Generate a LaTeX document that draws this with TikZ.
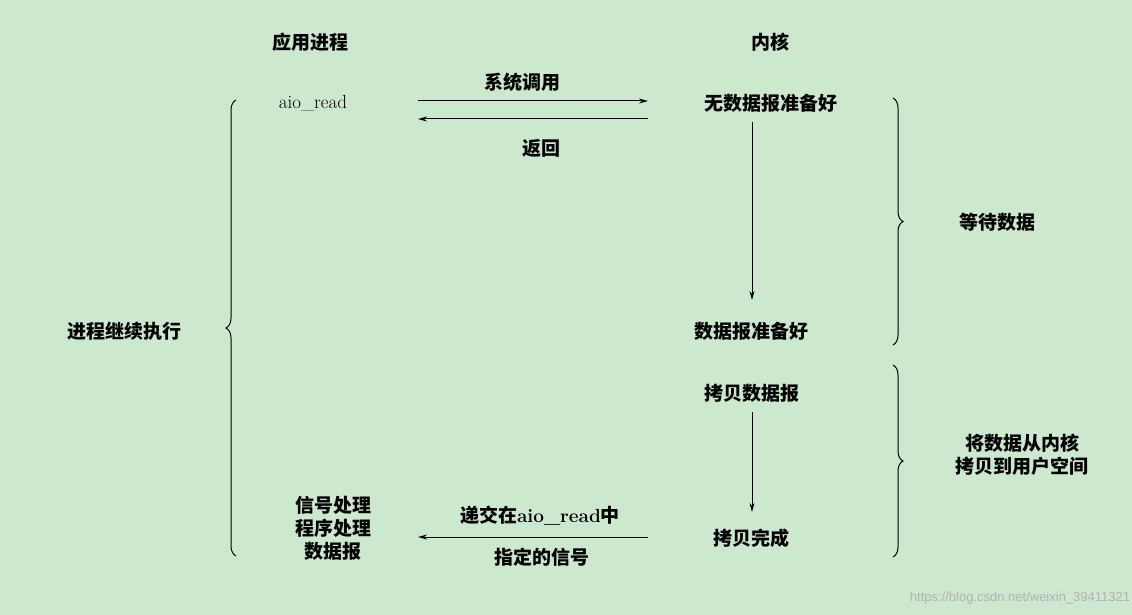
\documentclass[tikz,border=0pt]{standalone}
\usepackage{fontspec}
\newfontfamily\cjk{Noto Sans CJK SC}
\usetikzlibrary{decorations.pathreplacing,arrows.meta}
\definecolor{bg}{RGB}{204,232,207}
\begin{document}
\begin{tikzpicture}[x=1pt,y=-1pt,
  t/.style={font=\cjk\bfseries\fontsize{19}{23}\selectfont,align=center,inner sep=1pt},
  arr/.style={-{Stealth[length=9pt,width=5pt]},line width=1pt},
  br/.style={decorate,decoration={brace,amplitude=10pt},line width=1pt}]
\fill[bg] (0,0) rectangle (1132,615);
\useasboundingbox (0,0) rectangle (1132,615);
\node[t] (h1) at (310,42) {应用进程};
\node[t] (h2) at (770,42) {内核};
\node[t,font=\fontsize{19}{23}\selectfont] (aio) at (313,103) {aio\_read};
\node[t] (k1) at (771,103) {无数据报准备好};
\node[t] (k2) at (751,331) {数据报准备好};
\node[t] (k3) at (752,393) {拷贝数据报};
\node[t] (k4) at (751,538) {拷贝完成};
\node[t] (sig) at (333,528) {信号处理\\程序处理\\数据报};
\coordinate (a1) at (418,101); \coordinate (b1) at (648,101);
\coordinate (a2) at (648,119); \coordinate (b2) at (418,119);
\coordinate (a3) at (648,537); \coordinate (b3) at (418,537);
\draw[arr] (a1) -- (b1);
\draw[arr] (a2) -- (b2);
\draw[arr] (a3) -- (b3);
\node[t] (l1) at (522,82) {系统调用};
\node[t] (l2) at (541,148) {返回};
\node[t] (l3) at (540,516) {递交在{\fontspec{Latin Modern Roman}aio\_read}中};
\node[t] (l4) at (542,557) {指定的信号};
\draw[arr] (752,122) -- (752,300);
\draw[arr] (752,412) -- (752,512);
\draw[br] (236,556) -- (236,100);
\node[t] (p) at (124,331) {进程继续执行};
\draw[br] (893,98) -- (893,345);
\node[t] (w) at (997,222) {等待数据};
\draw[br] (893,365) -- (893,557);
\node[t] (c) at (1022,455) {将数据从内核\\拷贝到用户空间};
\node[font=\fontspec{Liberation Sans}\fontsize{13}{15}\selectfont,text=gray!60] (wm) at (1020,598) {https://blog.csdn.net/weixin\_39411321};
\end{tikzpicture}
\end{document}
